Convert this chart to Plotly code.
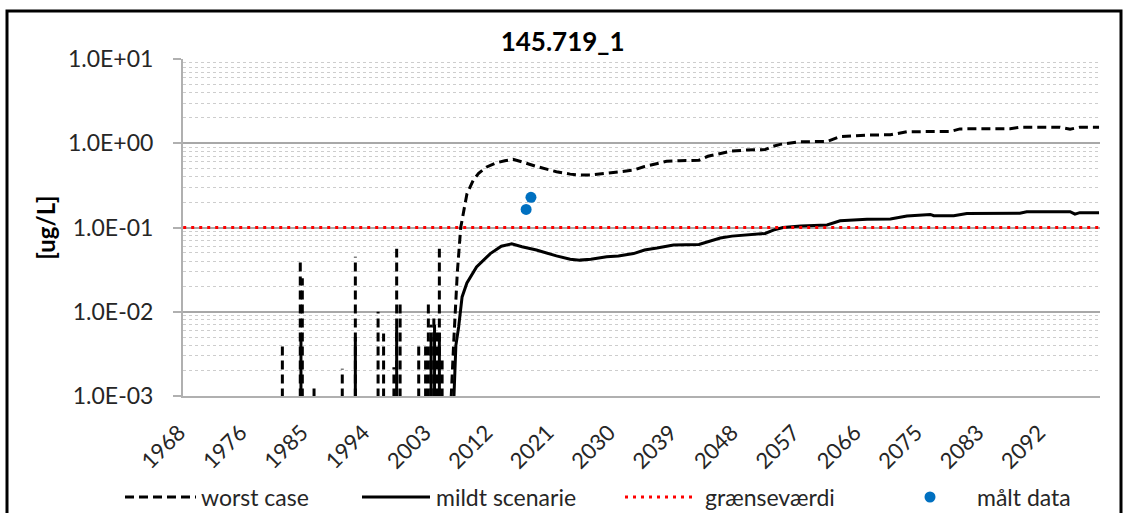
import plotly.graph_objects as go

# values (decimal years, ug/L)
# 1e-9 stands for "zero" - below the bottom of the log axis
BELOW_AXIS = 1e-9

# short pulses before the main breakthrough
worst_spike_years = [1981.7, 1984.3, 1984.6, 1986.3, 1990.4, 1992.3, 1995.6, 1996.4,
                     1997.9, 1998.3, 1998.8, 2001.5, 2002.5, 2002.9, 2003.3, 2003.7,
                     2004.1, 2004.5, 2004.9]
worst_spike_vals = [0.0039, 0.039, 0.025, 0.0013, 0.0021, 0.045, 0.010, 0.0055,
                    0.0022, 0.056, 0.013, 0.0044, 0.004, 0.0138, 0.007, 0.009,
                    0.006, 0.056, 0.003]
mild_spike_years = [1984.4, 1992.3, 1998.3, 2003.3, 2003.8, 2004.5]
mild_spike_vals = [0.0052, 0.0050, 0.0066, 0.005, 0.007, 0.0056]

# main curves
worst_years = [2005.6, 2006.2, 2006.6, 2007.1, 2007.6, 2008.5, 2009.4, 2010.2, 2011.3,
               2012.6, 2014.0, 2015.2, 2016.5, 2018.6, 2021.5, 2023.5, 2024.9, 2026.5,
               2028.8, 2030.5, 2032.7, 2034.3, 2036.1, 2037.5, 2039.4, 2042.2, 2043.5,
               2045.3, 2047.0, 2049.1, 2051.8, 2053.0, 2054.0, 2056.9, 2060.8, 2062.7,
               2066.6, 2070.0, 2072.4, 2078.7, 2080.1, 2087.4, 2088.8, 2094.6, 2096.1,
               2097.5, 2100.3]
worst_vals = [BELOW_AXIS, 0.0009, 0.0046, 0.0286, 0.10, 0.25, 0.36, 0.44, 0.52,
              0.58, 0.62, 0.645, 0.60, 0.53, 0.46, 0.43, 0.42, 0.42,
              0.44, 0.46, 0.48, 0.53, 0.58, 0.61, 0.62, 0.63, 0.70,
              0.76, 0.81, 0.83, 0.84, 0.92, 0.97, 1.04, 1.05, 1.20,
              1.25, 1.26, 1.37, 1.38, 1.48, 1.49, 1.55, 1.55, 1.47,
              1.55, 1.55]

mild_years = [2005.8, 2006.6, 2006.9, 2007.3, 2007.8, 2008.5, 2009.9, 2011.9, 2013.5,
              2015.0, 2016.5, 2018.6, 2021.5, 2023.5, 2024.9, 2026.5, 2028.8, 2030.5,
              2032.7, 2034.3, 2036.1, 2038.5, 2042.2, 2043.5, 2045.3, 2047.0, 2049.1,
              2051.8, 2053.0, 2054.4, 2057.0, 2060.8, 2062.7, 2066.6, 2070.0, 2072.4,
              2075.8, 2076.3, 2079.2, 2081.1, 2088.8, 2089.8, 2096.1, 2096.8, 2097.5,
              2100.3]
mild_vals = [BELOW_AXIS, 0.0009, 0.004, 0.0066, 0.015, 0.022, 0.034, 0.049, 0.060,
             0.064, 0.059, 0.054, 0.046, 0.042, 0.041, 0.042, 0.045, 0.046,
             0.049, 0.054, 0.057, 0.062, 0.063, 0.068, 0.075, 0.079, 0.082,
             0.085, 0.093, 0.100, 0.104, 0.107, 0.120, 0.125, 0.126, 0.137,
             0.143, 0.138, 0.138, 0.147, 0.148, 0.154, 0.154, 0.144, 0.150,
             0.150]

limit_years = [1967.3, 2100.3]
limit_vals = [0.1, 0.1]

measured_years = [2017.1, 2017.8]
measured_vals = [0.164, 0.228]

x_tick_labels = ['1968', '1976', '1985', '1994', '2003', '2012', '2021', '2030',
                 '2039', '2048', '2057', '2066', '2075', '2083', '2092']
y_tick_vals = [1e-3, 1e-2, 1e-1, 1e0, 1e1]
y_tick_labels = ['1.0E-03', '1.0E-02', '1.0E-01', '1.0E+00', '1.0E+01']

legend_labels = ['worst case', 'mildt scenarie', 'grænseværdi', 'målt data']

FONT = 'Lato'
WORST_DASH = '9px,5px'
LIMIT_DASH = '3px,5px'
BLUE = '#0070C0'

# plot area in pixels, used for the hand-drawn legend and the chart frame
L, R, T, B = 183, 1100, 59, 396


def px_x(p):
    return (p - L) / (R - L)


def px_y(p):
    return (B - p) / (B - T)


def with_pulses(spike_years, spike_vals, years, vals):
    """Each pulse rises from zero; zero readings break the line on the log axis"""
    xs, ys = [], []
    for t, v in zip(spike_years, spike_vals):
        xs += [t, t, None]
        ys += [BELOW_AXIS, v, None]
    return xs + years, ys + vals


wx, wy = with_pulses(worst_spike_years, worst_spike_vals, worst_years, worst_vals)
mx, my = with_pulses(mild_spike_years, mild_spike_vals, mild_years, mild_vals)

fig = go.Figure()
fig.add_trace(go.Scatter(x=wx, y=wy, name=legend_labels[0], mode='lines',
                         line=dict(color='black', width=3, dash=WORST_DASH)))
fig.add_trace(go.Scatter(x=mx, y=my, name=legend_labels[1], mode='lines',
                         line=dict(color='black', width=3)))
fig.add_trace(go.Scatter(x=limit_years, y=limit_vals, name=legend_labels[2], mode='lines',
                         line=dict(color='#FF0000', width=3, dash=LIMIT_DASH)))
fig.add_trace(go.Scatter(x=measured_years, y=measured_vals, name=legend_labels[3],
                         mode='markers', marker=dict(color=BLUE, size=11)))

minor_vals = [m * 10 ** e for e in range(-3, 1) for m in range(2, 10)]
tick_step = 8.92  # years between category labels

# Excel-style legend below the axis labels
leg_y = px_y(497)
shapes = [
    dict(type='line', xref='paper', yref='paper', x0=px_x(125), x1=px_x(196), y0=leg_y, y1=leg_y,
         line=dict(color='black', width=3, dash=WORST_DASH)),
    dict(type='line', xref='paper', yref='paper', x0=px_x(362), x1=px_x(430), y0=leg_y, y1=leg_y,
         line=dict(color='black', width=3)),
    dict(type='line', xref='paper', yref='paper', x0=px_x(625), x1=px_x(695), y0=leg_y, y1=leg_y,
         line=dict(color='#FF0000', width=3, dash=LIMIT_DASH)),
    dict(type='circle', xref='paper', yref='paper', xsizemode='pixel', ysizemode='pixel',
         xanchor=px_x(930), yanchor=leg_y, x0=-5.5, x1=5.5, y0=-5.5, y1=5.5,
         fillcolor=BLUE, line=dict(width=0)),
    # chart frame
    dict(type='rect', xref='paper', yref='paper',
         x0=px_x(7), x1=px_x(1121), y0=px_y(540), y1=px_y(11),
         line=dict(color='black', width=3), layer='above'),
]
annotations = [
    dict(text=txt, x=px_x(p), y=leg_y, xref='paper', yref='paper', xanchor='left',
         yanchor='middle', showarrow=False, font=dict(size=23, color='#262626'))
    for txt, p in zip(legend_labels, [199, 434, 703, 975])
]

fig.update_layout(
    width=1132, height=513,
    margin=dict(l=L, r=1132 - R, t=T, b=513 - B),
    paper_bgcolor='white', plot_bgcolor='white',
    showlegend=False,
    font=dict(family=FONT, color='#262626'),
    title=dict(text='<b>145.719_1</b>', x=0.497, xanchor='center',
               y=1 - 42 / 513, yanchor='middle',
               font=dict(family=FONT, size=26, color='black')),
    xaxis=dict(
        range=[1967.27, 2100.44],
        tickmode='array',
        tickvals=[1968 + tick_step * k for k in range(len(x_tick_labels))],
        ticktext=x_tick_labels,
        tickangle=-45, tickfont=dict(size=22),
        ticklabelshift=-9, ticklabelstandoff=13,
        showgrid=False, zeroline=False, automargin=False,
        showline=True, linecolor='#B0B0B0', linewidth=2, ticks='',
    ),
    yaxis=dict(
        type='log', range=[-3, 1],
        tickmode='array', tickvals=y_tick_vals, ticktext=y_tick_labels,
        tickfont=dict(size=23),
        showgrid=True, gridcolor='#A8A8A8', gridwidth=2,
        showline=True, linecolor='#B0B0B0', linewidth=2,
        ticks='outside', ticklen=8, tickwidth=2, tickcolor='#B0B0B0',
        ticklabelstandoff=15, automargin=False,
        minor=dict(tickmode='array', tickvals=minor_vals, showgrid=True,
                   gridcolor='#CDCDCD', griddash='dot', gridwidth=1, ticks=''),
        title=dict(text='<b>[ug/L]</b>', font=dict(size=24, color='black'), standoff=6),
        zeroline=False,
    ),
    shapes=shapes,
    annotations=annotations,
)

# the page's default body margin would shift the fixed-size figure
fig.write_html('out.html', config={'displayModeBar': False},
               post_script="document.body.style.margin = '0';")
